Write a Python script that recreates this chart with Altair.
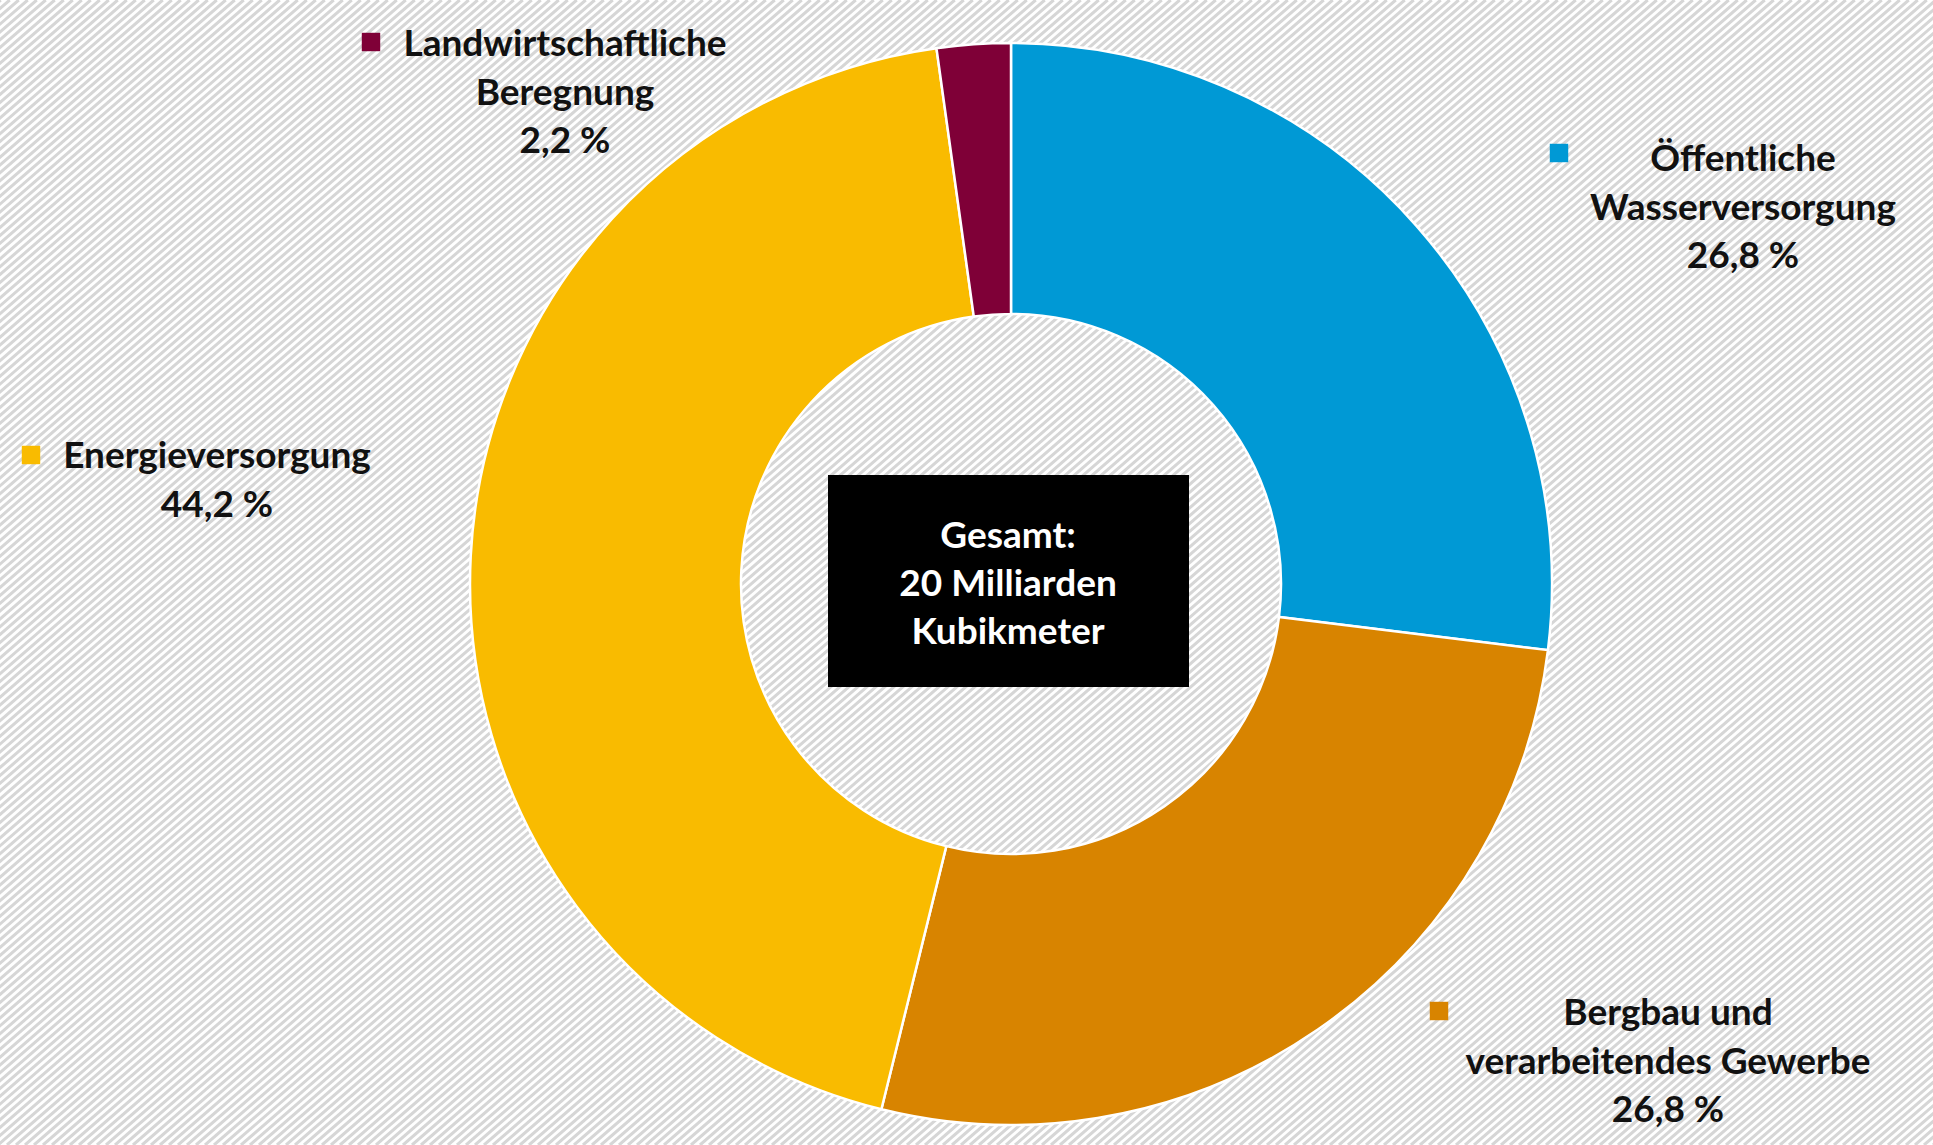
import altair as alt
import numpy as np
import pandas as pd

# ---- data ----
categories = [
    "Öffentliche Wasserversorgung",
    "Bergbau und verarbeitendes Gewerbe",
    "Energieversorgung",
    "Landwirtschaftliche Beregnung",
]
# printed shares (labels)
shares = [26.8, 26.8, 44.2, 2.2]
# slice sizes as drawn in the reference
slice_shares = [26.95, 26.9, 43.95, 2.2]
label_lines = [
    ["Öffentliche", "Wasserversorgung"],
    ["Bergbau und", "verarbeitendes Gewerbe"],
    ["Energieversorgung"],
    ["Landwirtschaftliche", "Beregnung"],
]
colors = ["#0099d5", "#d88400", "#f9bb00", "#7f0037"]
center_text = ["Gesamt:", "20 Milliarden", "Kubikmeter"]

# ---- layout (pixels) ----
W, H = 1933, 1145
CX, CY = 1011, 584
R_OUT, R_IN = 541, 270
FONT = "Lato"
FS = 37
LH = 48.5
label_layout = [  # text centre x, first line centre y, marker x, marker y
    (1743, 160, 1559, 153),
    (1668, 1014, 1439, 1011),
    (217, 457, 31, 455),
    (565, 45, 371, 42),
]

def fmt(v):
    return f"{v:.1f}".replace(".", ",") + " %"

df = pd.DataFrame({"cat": categories, "share": slice_shares, "order": range(len(categories))})

# background hatch (decoration)
step = 9
offs = np.arange(-int(H * 1.15), W + step, step)
hatch = pd.DataFrame({"x": offs, "y": H, "x2": offs + H * 1.15, "y2": 0})
hatch_layer = alt.Chart(hatch).mark_rule(stroke="#d6d6d6", strokeWidth=3).encode(
    x=alt.X("x:Q", scale=None), x2="x2:Q",
    y=alt.Y("y:Q", scale=None), y2="y2:Q",
)

donut = alt.Chart(df).mark_arc(
    innerRadius=R_IN, outerRadius=R_OUT, stroke="white", strokeWidth=2.5
).encode(
    theta=alt.Theta("share:Q", stack=True, scale=alt.Scale(domain=[0, sum(slice_shares)])),
    order=alt.Order("order:Q"),
    color=alt.Color("cat:N", scale=alt.Scale(domain=categories, range=colors), legend=None),
    x=alt.value(CX),
    y=alt.value(CY),
)

box = alt.Chart(df.head(1)).mark_rect(color="black").encode(
    x=alt.value(828), x2=alt.value(1189), y=alt.value(475), y2=alt.value(687)
)
center = alt.Chart(df.head(1)).mark_text(
    font=FONT, fontSize=FS, fontWeight="bold", color="white",
    align="center", baseline="middle", lineBreak="\n", lineHeight=48,
).encode(x=alt.value(1008), y=alt.value(537), text=alt.value("\n".join(center_text)))

layers = [hatch_layer, donut, box, center]
for i, cat in enumerate(categories):
    tx, ty, mx, my = label_layout[i]
    txt = "\n".join(label_lines[i] + [fmt(shares[i])])
    sub = df.iloc[[i]]
    layers.append(
        alt.Chart(sub).mark_text(
            font=FONT, fontSize=FS, fontWeight="bold", color="#111111",
            align="center", baseline="middle", lineBreak="\n", lineHeight=LH,
        ).encode(x=alt.value(tx), y=alt.value(ty), text=alt.value(txt))
    )
    layers.append(
        alt.Chart(sub).mark_square(size=340, opacity=1, color=colors[i]).encode(
            x=alt.value(mx), y=alt.value(my)
        )
    )

chart = alt.layer(*layers).properties(
    width=W, height=H, padding=0, autosize=alt.AutoSizeParams(type="none"),
    background="white",
).configure_view(stroke=None)

chart.save("out.html", embed_options={"renderer": "svg", "actions": False})
